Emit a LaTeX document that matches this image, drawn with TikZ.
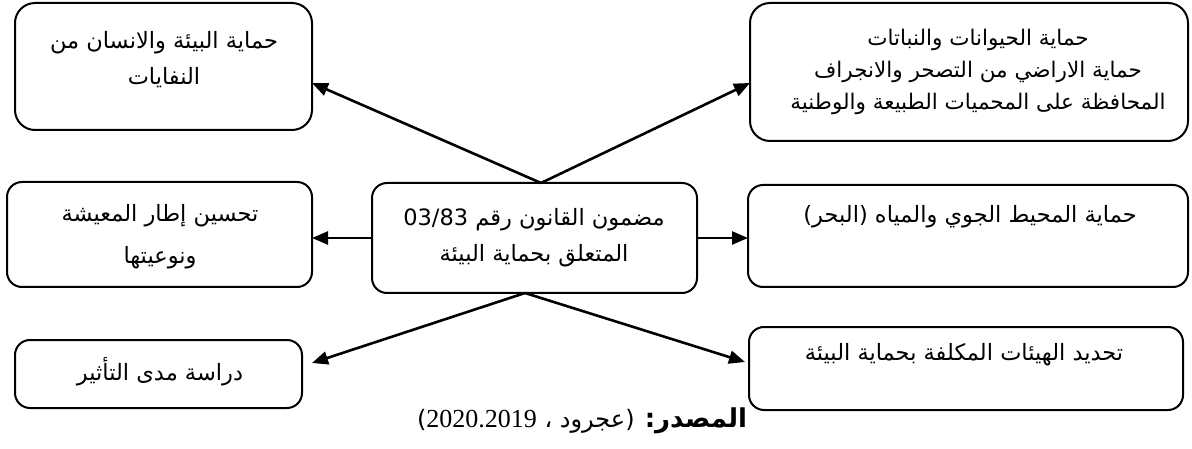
\documentclass[tikz,border=0pt]{standalone}
\usepackage{fontspec}
\usetikzlibrary{arrows.meta,calc}
\TeXXeTstate=1
\newfontfamily\arabicfont[Script=Arabic]{DejaVu Sans}
\newfontfamily\numfont{Liberation Serif}
\newcommand\rtl[1]{\beginR#1\endR}

\begin{document}
\begin{tikzpicture}[x=1pt,y=-1pt,
  box/.style={draw, line width=2pt, rounded corners=15pt, inner sep=0pt, outer sep=0pt},
  txt/.style={font=\arabicfont\fontsize{22.5}{32}\selectfont, align=center, inner sep=0pt},
  link/.style={line width=2.6pt, -{Triangle[length=16pt,width=13pt]}}]
  \useasboundingbox (0,0) rectangle (1192,449);

  % boxes
  \node[box, rounded corners=20pt, minimum width=297pt, minimum height=127pt] (tl) at (163.5,66.5) {};
  \node[box, rounded corners=20pt, minimum width=438pt, minimum height=138pt] (tr) at (969,72) {};
  \node[box, minimum width=305pt, minimum height=105pt] (ml) at (159.5,234.5) {};
  \node[box, minimum width=325pt, minimum height=110pt] (c)  at (534.5,238) {};
  \node[box, minimum width=440pt, minimum height=102pt] (mr) at (968,236) {};
  \node[box, minimum width=287pt, minimum height=68pt]  (bl) at (158.5,374) {};
  \node[box, minimum width=434pt, minimum height=83pt]  (br) at (966,368.5) {};

  % box texts
  \node[txt, font=\arabicfont\fontsize{22.5}{36}\selectfont] (tlt) at (164,60)
    {\rtl{حماية البيئة والانسان من}\\\rtl{النفايات}};
  \node[txt, font=\arabicfont\fontsize{21.5}{32}\selectfont] (trt) at (978,72)
    {\rtl{حماية الحيوانات والنباتات}\\\rtl{حماية الاراضي من التصحر والانجراف}\\\rtl{المحافظة على المحميات الطبيعة والوطنية}};
  \node[txt, font=\arabicfont\fontsize{22.5}{42}\selectfont] (mlt) at (160,237)
    {\rtl{تحسين إطار المعيشة}\\\rtl{ونوعيتها}};
  \node[txt, font=\arabicfont\fontsize{22.5}{36}\selectfont] (ct) at (534,238)
    {\rtl{مضمون القانون رقم \beginL 03/83\endL}\\\rtl{المتعلق بحماية البيئة}};
  \node[txt] (mrt) at (970,217) {\rtl{حماية المحيط الجوي والمياه (البحر)}};
  \node[txt] (blt) at (160,372) {\rtl{دراسة مدى التأثير}};
  \node[txt] (brt) at (964,355) {\rtl{تحديد الهيئات المكلفة بحماية البيئة}};

  % connector end points on the box borders
  \coordinate (ctop) at ($(c.north)+(6.5,0)$);
  \coordinate (cbot) at ($(c.south)+(-9.5,0)$);
  \coordinate (tlin) at ($(tl.east)+(0,16.5)$);
  \coordinate (trin) at ($(tr.west)+(0,11)$);
  \coordinate (blin) at ($(bl.east)+(10,-11)$);
  \coordinate (brin) at ($(br.west)+(-4,-6.5)$);

  % connectors
  \draw[link] (ctop) -- (tlin);
  \draw[link] (ctop) -- (trin);
  \draw[link] (c.east) -- (c.east -| mr.west);
  \draw[link] (c.west) -- (c.west -| ml.east);
  \draw[link] (cbot) -- (blin);
  \draw[link] (cbot) -- (brin);

  % source line
  \node[inner sep=0pt, font=\arabicfont\fontsize{24}{30}\selectfont] (src) at (582,421)
    {\rtl{{\bfseries\fontsize{26}{30}\selectfont المصدر:} (عجرود ، \beginL{\numfont\fontsize{26}{30}\selectfont 2020.2019}\endL)}};
\end{tikzpicture}
\end{document}
